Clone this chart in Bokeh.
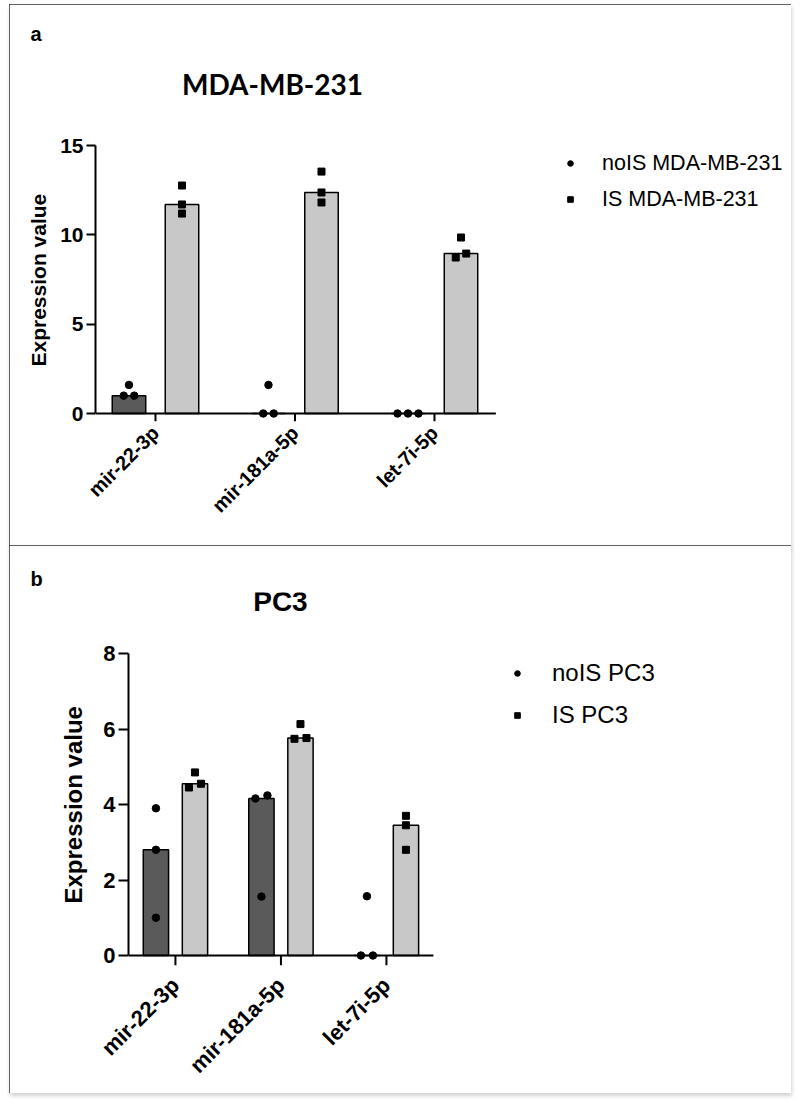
import numpy as np
from bokeh.plotting import figure
from bokeh.models import (ColumnDataSource, Range1d, FixedTicker, Label,
                          Legend, LegendItem, Title)
from bokeh.embed import file_html
from bokeh.resources import INLINE
from bokeh.transform import dodge

# ---------------- data ----------------
categories = ["mir-22-3p", "mir-181a-5p", "let-7i-5p"]

# Panel a: MDA-MB-231 (three replicates per miRNA)
mda_nois = [[1.6, 1.0, 1.0], [1.6, 0.0, 0.0], [0.0, 0.0, 0.0]]
mda_is = [[12.76, 11.70, 11.19], [13.54, 12.37, 11.81], [9.85, 8.95, 8.73]]
mda_ticks = [0, 5, 10, 15]
mda_series = ["noIS MDA-MB-231", "IS MDA-MB-231"]
mda_title = "MDA-MB-231"

# Panel b: PC3
pc3_nois = [[3.9, 2.8, 1.0], [4.24, 4.16, 1.56], [1.57, 0.0, 0.0]]
pc3_is = [[4.85, 4.55, 4.45], [6.13, 5.76, 5.74], [3.70, 3.45, 2.80]]
pc3_ticks = [0, 2, 4, 6, 8]
pc3_series = ["noIS PC3", "IS PC3"]
pc3_title = "PC3"

y_label = "Expression value"

FONT = "Liberation Sans"
DARK = "#5a5a5a"
LIGHT = "#c8c8c8"


def jittered(vals, base, step, tol):
    """Spread overlapping points horizontally (like a column scatter)."""
    order = sorted(range(len(vals)), key=lambda i: vals[i])
    clusters = []
    for i in order:
        if clusters and vals[i] - vals[clusters[-1][-1]] < tol:
            clusters[-1].append(i)
        else:
            clusters.append([i])
    xs = [None] * len(vals)
    for cl in clusters:
        n = len(cl)
        for k, i in enumerate(cl):
            xs[i] = base + (k - (n - 1) / 2) * step
    return xs


def panel(L, nois, is_, ticks, series, title, letter):
    # L: layout in page pixels
    ymax = ticks[-1]
    ppu = (L["zero_y"] - L["axis_top"]) / ymax          # px per y unit
    ppc = L["spacing"]                                  # px per category
    x0 = -L["pad_l"]
    x1 = x0 + (L["frame_right"] - L["frame_left"]) / ppc
    y0 = -L["tick_len"] / ppu
    y1 = (L["zero_y"] - L["frame_top"]) / ppu
    fig_bottom = L["fig_top"] + L["height"]
    frame_bottom = L["zero_y"] + L["tick_len"]

    p = figure(width=L["width"], height=L["height"],
               x_range=Range1d(x0, x1), y_range=Range1d(y0, y1),
               output_backend="svg", toolbar_location=None,
               min_border_left=L["frame_left"] - L["fig_left"],
               min_border_right=L["fig_left"] + L["width"] - L["frame_right"],
               min_border_top=L["frame_top"] - L["fig_top"],
               min_border_bottom=fig_bottom - frame_bottom)
    p.margin = (L["mtop"], 0, 0, L["fig_left"])
    p.styles = {"outline": "2px solid #2e2e2e", "outline-offset": "-2px",
                "box-shadow": "1px 3px 4px rgba(0,0,0,0.18)"}
    p.xgrid.visible = False
    p.ygrid.visible = False
    p.outline_line_color = None
    p.background_fill_color = "white"
    p.border_fill_color = "white"

    idx = list(range(len(categories)))
    offs = L["offs"]
    src = ColumnDataSource(dict(idx=idx,
                                nois=[float(np.median(v)) for v in nois],
                                iss=[float(np.median(v)) for v in is_]))
    p.vbar(x=dodge("idx", -offs), top="nois", bottom=0, width=0.24,
           source=src, fill_color=DARK, line_color="black", line_width=1.5)
    p.vbar(x=dodge("idx", offs), top="iss", bottom=0, width=0.24,
           source=src, fill_color=LIGHT, line_color="black", line_width=1.5)

    # x axis line at zero and its ticks (drawn in data space so that the
    # markers sitting on zero are not clipped)
    p.segment(x0=[x0], y0=[0], x1=[idx[-1] + L["pad_r"]], y1=[0],
              line_color="black", line_width=2)
    p.segment(x0=idx, y0=[0] * len(idx), x1=idx, y1=[y0] * len(idx),
              line_color="black", line_width=2)

    step = L["jit_px"] / ppc
    tol = 7.5 / ppu
    xs_n, ys_n, xs_i, ys_i = [], [], [], []
    for i, vn, vi in zip(idx, nois, is_):
        xs_n += jittered(vn, i - offs, step, tol)
        ys_n += vn
        xs_i += jittered(vi, i + offs, step, tol)
        ys_i += vi
    p.scatter(x=xs_n, y=ys_n, marker="circle", size=7.5, color="black")
    p.scatter(x=xs_i, y=ys_i, marker="square", size=7, color="black")

    xa = p.xaxis[0]
    xa.ticker = FixedTicker(ticks=idx)
    xa.major_label_overrides = {i: c for i, c in zip(idx, categories)}
    xa.axis_line_color = None
    xa.major_tick_line_color = None
    xa.minor_tick_line_color = None
    xa.major_tick_out = 0
    xa.major_tick_in = 0
    xa.major_label_orientation = np.pi / 4
    xa.major_label_standoff = L["xstand"]
    xa.major_label_text_font = FONT
    xa.major_label_text_font_style = "bold"
    xa.major_label_text_font_size = L["xlab_fs"]
    xa.major_label_text_color = "black"

    ya = p.yaxis[0]
    ya.bounds = (0, ymax)
    ya.ticker = FixedTicker(ticks=ticks)
    ya.minor_tick_line_color = None
    ya.axis_line_width = 2
    ya.major_tick_line_width = 2
    ya.major_tick_out = L["ytick"]
    ya.major_tick_in = 0
    ya.major_label_standoff = 3
    ya.major_label_text_font = FONT
    ya.major_label_text_font_style = "bold"
    ya.major_label_text_font_size = L["tick_fs"]
    ya.major_label_text_color = "black"

    # y axis title, placed along the axis span (0..ymax) rather than the frame
    p.add_layout(Title(text=y_label, align="left", offset=L["ylab_offset"],
                       standoff=L["ylab_standoff"], text_font=FONT,
                       text_font_style="bold", text_font_size=L["ylab_fs"],
                       text_color="black"), "left")

    # legend (inside the frame, which extends to the right of the bars)
    r1 = p.scatter(x=[np.nan], y=[np.nan], marker="circle", size=L["leg_size"],
                   color="black")
    r2 = p.scatter(x=[np.nan], y=[np.nan], marker="square", size=L["leg_size"],
                   color="black")
    row = L["leg_row"]
    gap = L["leg_gap"]
    leg_left = L["leg_x"] - 7
    leg_bottom = L["leg_y"] + (row + gap) + row / 2
    leg = Legend(items=[LegendItem(label=series[0], renderers=[r1]),
                        LegendItem(label=series[1], renderers=[r2])],
                 location=(leg_left - L["frame_left"], frame_bottom - leg_bottom),
                 orientation="vertical",
                 glyph_width=14, glyph_height=row, label_height=row,
                 spacing=gap, label_standoff=L["leg_text_x"] - (L["leg_x"] + 7),
                 padding=0, margin=0, border_line_color=None,
                 background_fill_alpha=0,
                 label_text_font=FONT, label_text_font_size=L["leg_fs"],
                 label_text_color="black")
    p.add_layout(leg)

    # chart title (inside the frame area above the plot)
    p.add_layout(Label(x=(L["title_x"] - L["c0"]) / ppc,
                       y=(L["zero_y"] - L["title_y"]) / ppu,
                       text=title, text_font=L["title_font"], text_font_style="bold",
                       text_font_size="28px", text_color="black",
                       text_align="center", text_baseline="alphabetic"))

    # panel letter as the figure title
    p.title.text = letter
    p.title.align = "left"
    p.title.offset = 30 - L["frame_left"]
    p.title.standoff = L["letter_standoff"]
    p.title.text_font = FONT
    p.title.text_font_style = "bold"
    p.title.text_font_size = "20px"
    p.title.text_color = "black"
    return p


LA = dict(fig_left=9, fig_top=4, mtop=4, width=782, height=543,
          frame_left=95, frame_right=786, frame_top=50, zero_y=413, axis_top=145,
          tick_len=8, spacing=139.5, pad_l=0.43, pad_r=0.44, c0=155, offs=0.19,
          jit_px=10.5, xstand=8, xlab_fs="20px", tick_fs="21px", ylab_fs="21px",
          ytick=9, ylab_offset=55, ylab_standoff=15,
          leg_x=570, leg_y=163, leg_text_x=602, leg_row=30,
          leg_gap=6, leg_fs="21.5px", leg_size=5.5, title_x=272, title_y=83,
          title_font="Lato", letter_standoff=12)
LB = dict(fig_left=9, fig_top=545, mtop=-2, width=782, height=548,
          frame_left=128, frame_right=786, frame_top=592, zero_y=955, axis_top=653,
          tick_len=10, spacing=105.5, pad_l=0.445, pad_r=0.445, c0=175, offs=0.185,
          jit_px=12, xstand=16, xlab_fs="22px", tick_fs="22px", ylab_fs="24px",
          ytick=10, ylab_offset=62, ylab_standoff=28,
          leg_x=517, leg_y=673, leg_text_x=552, leg_row=34,
          leg_gap=8, leg_fs="24px", leg_size=6.5, title_x=280, title_y=601,
          title_font=FONT, letter_standoff=6)

pa = panel(LA, mda_nois, mda_is, mda_ticks, mda_series, mda_title, "a")
pb = panel(LB, pc3_nois, pc3_is, pc3_ticks, pc3_series, pc3_title, "b")

open("out.html", "w").write(file_html([pa, pb], INLINE))
